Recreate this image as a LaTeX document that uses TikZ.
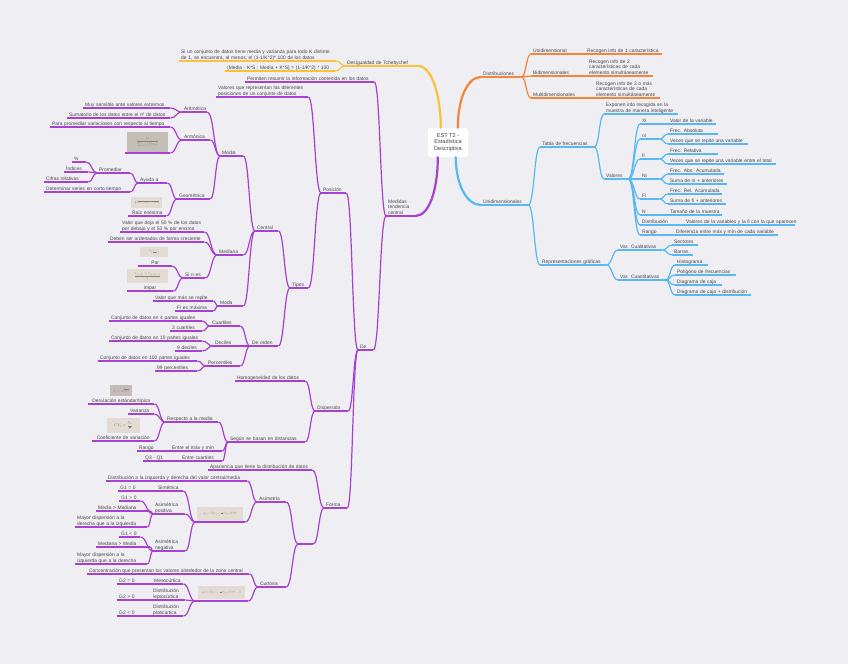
\documentclass[tikz,border=0pt]{standalone}
\usepackage{fontspec}
\usepackage{graphicx}
\setmainfont{Liberation Sans}
\usetikzlibrary{calc}
\definecolor{bgc}{RGB}{239,238,243}
\definecolor{cpur}{RGB}{167,66,208}
\definecolor{cora}{RGB}{247,132,58}
\definecolor{cyel}{RGB}{250,195,55}
\definecolor{cblu}{RGB}{88,184,246}
\definecolor{tcol}{RGB}{70,70,76}
\definecolor{imgc}{RGB}{226,220,212}
\definecolor{imgd}{RGB}{196,190,184}
\definecolor{fcol}{RGB}{140,128,116}
\newcommand\myfs{\fontsize{4.9}{5.7}\selectfont}
\newcommand\mnd[6]{\pgfmathsetmacro\mytw{#4-#3-4}\node[#1,text width=\mytw pt,anchor=south west] (#2) at (#3,#5) {\begin{tabular}[b]{@{}l@{}}#6\end{tabular}};}
\newcommand\cnd[6]{\pgfmathsetmacro\mytw{#4-#3-4}\node[#1,align=center,text width=\mytw pt,anchor=south west] (#2) at (#3,#5) {\begin{tabular}[b]{@{}c@{}}#6\end{tabular}};}
\newcommand\emnd[5]{\pgfmathsetmacro\mytw{#4-#3-4}\node[#1,text width=\mytw pt,text height=0pt,text depth=0pt,anchor=south west] (#2) at (#3,#5) {};}
\tikzset{
 basenode/.style={font=\myfs, text=tcol, inner xsep=2pt, inner ysep=0.9pt, text depth=0.4pt, align=left},
 ulnode/.style={basenode, append after command={(\tikzlastnode.south west) edge[draw=#1, line width=1.2pt] (\tikzlastnode.south east)}},
 pnode/.style={ulnode=cpur}, onode/.style={ulnode=cora}, ynode/.style={ulnode=cyel}, bnode/.style={ulnode=cblu},
 crv/.style={to path={let \p1=(\tikztostart),\p2=(\tikztotarget) in .. controls (\x1/2+\x2/2,\y1) and (\x1/2+\x2/2,\y2) .. (\tikztotarget)}},
 cpu/.style={draw=cpur, line width=1.2pt, crv}, cor/.style={draw=cora, line width=1.2pt, crv},
 cye/.style={draw=cyel, line width=1.2pt, crv}, cbl/.style={draw=cblu, line width=1.2pt, crv},
 rootline/.style={line width=2.2pt, line cap=round},
 imgbox/.style={fill=imgc, inner sep=0pt, text=fcol},
 rootbox/.style={fill=white, rounded corners=2.5pt, minimum width=40pt, minimum height=29pt, align=center, font=\fontsize{5.6}{6.6}\selectfont, text=tcol, inner sep=1pt}
}
\begin{document}
\begin{tikzpicture}[x=1pt,y=-1pt]
\fill[bgc] (0,0) rectangle (848,664);
\useasboundingbox (0,0) rectangle (848,664);

% ---------- right: orange
\mnd{onode}{dist}{481}{521}{77}{Distribuciones}
\mnd{onode}{uni1}{531}{585}{54}{Unidimensional}
\mnd{onode}{uni1c}{585}{662}{54}{Recogen info de 1 característica}
\mnd{onode}{bid}{531}{585}{76}{Bidimensionales}
\mnd{onode}{bidc}{587}{653}{76}{Recogen info de 2\\características de cada\\elemento simultáneamente}
\mnd{onode}{mul}{531}{590}{98}{Multidimensionales}
\mnd{onode}{mulc}{594}{660}{98}{Recogen info de 3 o más\\características de cada\\elemento simultáneamente}

% ---------- right: blue
\mnd{bnode}{unid}{481}{528}{205}{Unidimensionales}
\mnd{bnode}{tabla}{540}{594}{147}{Tabla de frecuencias}
\mnd{bnode}{expo}{604}{678}{114}{Exponen info recogida en la\\muestra de manera inteligente}
\mnd{bnode}{valo}{604}{628}{179}{Valores}
\mnd{bnode}{vxi}{640}{662}{124}{Xi}
\mnd{bnode}{vxic}{668}{716}{124}{Valor de la variable}
\mnd{bnode}{vni}{640}{659}{139}{ni}
\mnd{bnode}{vnia}{668}{718}{134}{Frec. Absoluta}
\mnd{bnode}{vnib}{668}{748}{144}{Veces que se repite una variable}
\mnd{bnode}{vfi}{640}{659}{159}{fi}
\mnd{bnode}{vfia}{668}{718}{154}{Frec. Relativa}
\mnd{bnode}{vfib}{668}{776}{164}{Veces que se repite una variable entre el total}
\mnd{bnode}{vNi}{640}{659}{179}{Ni}
\mnd{bnode}{vNia}{668}{724}{174}{Frec. Abs. Acumulada}
\mnd{bnode}{vNib}{668}{727}{184}{Suma de ni + anteriores}
\mnd{bnode}{vFi}{640}{659}{199}{Fi}
\mnd{bnode}{vFia}{668}{722}{194}{Frec. Rel. Acumulada}
\mnd{bnode}{vFib}{668}{726}{204}{Suma de fi + anteriores}
\mnd{bnode}{vN}{640}{668}{215}{N}
\mnd{bnode}{vNc}{668}{722}{215}{Tamaño de la muestra}
\mnd{bnode}{vdis}{640}{684}{225}{Distribución}
\mnd{bnode}{vdisc}{684}{795}{225}{Valores de la variables y la fi con la que aparecen}
\mnd{bnode}{vran}{640}{674}{235}{Rango}
\mnd{bnode}{vranc}{674}{778}{235}{Diferencia entre máx y mín de cada variable}
\mnd{bnode}{rep}{540}{606}{265}{Representaciones gráficas}
\mnd{bnode}{vcl}{618}{662}{250}{Var. Cualitativas}
\mnd{bnode}{sect}{672}{698}{245}{Sectores}
\mnd{bnode}{barr}{672}{693}{255}{Barras}
\mnd{bnode}{vcu}{618}{665}{280}{Var. Cuantitativas}
\mnd{bnode}{hist}{675}{708}{265}{Histograma}
\mnd{bnode}{poli}{675}{736}{275}{Polígono de frecuencias}
\mnd{bnode}{diag}{675}{722}{285}{Diagrama de caja}
\mnd{bnode}{diagd}{675}{751}{295}{Diagrama de caja + distribución}

% ---------- left: yellow
\mnd{ynode}{des}{345}{418}{66}{Desigualdad de Tchebychef}
\mnd{ynode}{des1}{179}{336}{61}{Si un conjunto de datos tiene media y varianza para todo K distinto\\de 1, se encuentra, al menos, el (1-1/K\textasciicircum 2)* 100 de los datos}
\mnd{ynode}{des2}{225}{335}{71}{(Media - K*S ; Media + K*S) = (1-1/K\textasciicircum 2) * 100}

% ---------- left: purple
\mnd{pnode}{med}{386}{415}{216}{Medidas\\tendencia\\central}
\mnd{pnode}{perm}{245}{374}{82}{Permiten resumir la información contenida en los datos}
\mnd{pnode}{de}{358}{373}{350}{De}
\mnd{pnode}{pos}{321}{346}{193}{Posición}
\mnd{pnode}{valp}{216}{308}{97}{Valores que representan las diferentes\\posiciones de un conjunto de datos}
\mnd{pnode}{tipos}{290}{308}{288}{Tipos}
\mnd{pnode}{central}{255}{278}{231}{Central}
\mnd{pnode}{deord}{250}{278}{346}{De orden}
\mnd{pnode}{media}{220}{243}{156}{Media}
\mnd{pnode}{mediana}{217}{243}{255}{Mediana}
\mnd{pnode}{moda}{218}{243}{306}{Moda}
\mnd{pnode}{arit}{182}{207}{112}{Aritmética}
\mnd{pnode}{arit1}{83}{170}{108}{Muy sensible ante valores extremos}
\mnd{pnode}{arit2}{67}{170}{118}{Sumatorio de los datos entre el nº de datos}
\mnd{pnode}{armo}{182}{210}{140}{Armónica}
\mnd{pnode}{armo1}{50}{170}{127}{Para promediar variaciones con respecto al tiempo}
\emnd{pnode}{armo2}{125}{170}{153}
\mnd{pnode}{geo}{177}{210}{199}{Geométrica}
\mnd{pnode}{ayuda}{138}{167}{183}{Ayuda a}
\mnd{pnode}{prom}{97}{130}{173}{Promediar}
\mnd{pnode}{pct}{72}{86}{162}{\%}
\mnd{pnode}{indi}{64}{88}{172}{Índices}
\mnd{pnode}{cifr}{44}{88}{182}{Cifras relativas}
\mnd{pnode}{deter}{44}{130}{192}{Determinar series en corto tiempo}
\cnd{pnode}{raiz}{128}{166}{216}{Raíz enésima}
\mnd{pnode}{valm}{120}{204}{232}{Valor que deja el 50 \% de los datos\\por debajo y el 50 \% por encima}
\mnd{pnode}{debe}{108}{204}{242}{Deben ser ordenados de forma creciente}
\mnd{pnode}{sine}{183}{205}{278}{Si n es}
\cnd{pnode}{par}{138}{172}{266}{Par}
\cnd{pnode}{impar}{127}{173}{291}{impar}
\mnd{pnode}{moda1}{153}{213}{301}{Valor que más se repite}
\mnd{pnode}{moda2}{175}{213}{311}{Fi es máxima}
\mnd{pnode}{cuar}{210}{240}{326}{Cuartiles}
\mnd{pnode}{cuar1}{109}{202}{321}{Conjunto de datos en 4 partes iguales}
\mnd{pnode}{cuar2}{170}{202}{331}{3 cuartiles}
\mnd{pnode}{deci}{213}{240}{346}{Deciles}
\mnd{pnode}{deci1}{109}{202}{341}{Conjunto de datos en 10 partes iguales}
\mnd{pnode}{deci2}{175}{202}{351}{9 deciles}
\mnd{pnode}{perc}{206}{240}{366}{Percentiles}
\mnd{pnode}{perc1}{98}{197}{361}{Conjunto de datos en 100 partes iguales}
\mnd{pnode}{perc2}{155}{197}{371}{99 percentiles}

\mnd{pnode}{disp}{315}{348}{411}{Dispersión}
\mnd{pnode}{homo}{235}{305}{381}{Homogeneidad de los datos}
\mnd{pnode}{segun}{228}{305}{442}{Según se basan en distancias}
\mnd{pnode}{resp}{165}{218}{422}{Respecto a la media}
\cnd{pnode}{desv}{88}{154}{404}{Desviación estándar/típica}
\mnd{pnode}{vari}{128}{154}{414}{Varianza}
\cnd{pnode}{coef}{92}{154}{441}{Coeficiente de variación}
\mnd{pnode}{entre}{170}{222}{451}{Entre el máx y mín}
\mnd{pnode}{rango}{137}{170}{451}{Rango}
\mnd{pnode}{entq}{180}{222}{461}{Entre cuartiles}
\mnd{pnode}{q3}{143}{180}{461}{Q3 - Q1}

\mnd{pnode}{forma}{324}{347}{508}{Forma}
\mnd{pnode}{apar}{208}{312}{470}{Apariencia que tiene la distribución de datos}
\emnd{pnode}{fgap}{298}{313}{544}
\mnd{pnode}{asim}{257}{286}{502}{Asimetría}
\mnd{pnode}{curt}{258}{286}{587}{Curtosis}
\mnd{pnode}{asim1}{106}{247}{481}{Distribución a la izquierda y derecha del valor central/media}
\emnd{pnode}{asimg}{195}{245}{522}
\mnd{pnode}{sime}{156}{183}{491}{Simétrica}
\mnd{pnode}{g10}{118}{156}{491}{G1 = 0}
\mnd{pnode}{apos}{153}{185}{514}{Asimétrica\\positiva}
\mnd{pnode}{g1p}{119}{140}{501}{G1 > 0}
\mnd{pnode}{mmm}{96}{150}{511}{Media > Mediana}
\mnd{pnode}{mdd}{75}{147}{527}{Mayor dispersión a la\\derecha que a la izquierda}
\mnd{pnode}{aneg}{153}{185}{551}{Asimétrica\\negativa}
\mnd{pnode}{g1n}{119}{140}{537}{G1 < 0}
\mnd{pnode}{mmn}{96}{150}{547}{Mediana > Media}
\mnd{pnode}{mdi}{75}{147}{564}{Mayor dispersión a la\\izquierda que a la derecha}
\mnd{pnode}{curt1}{87}{249}{574}{Concentración que presentan los valores alrededor de la zona central}
\emnd{pnode}{curtg}{195}{248}{601}
\mnd{pnode}{meso}{152}{183}{584}{Mesocúrtica}
\mnd{pnode}{g20}{117}{152}{584}{G2 = 0}
\mnd{pnode}{lept}{151}{185}{600}{Distribución\\leptocúrtica}
\mnd{pnode}{g2p}{117}{151}{600}{G2 > 0}
\mnd{pnode}{plat}{151}{183}{616}{Distribución\\platicúrtica}
\mnd{pnode}{g2n}{117}{151}{616}{G2 < 0}

% ---------- formula pictures
\node[imgbox, fill=imgd, minimum width=41pt, minimum height=20pt] (imarmo) at (147.5,142) {\scalebox{0.4}{$\displaystyle\frac{n}{\sum_{i=1}^{n}(1/x_i)}$}};
\node[imgbox, minimum width=31pt, minimum height=11pt] (imraiz) at (146.5,202.5) {\scalebox{0.4}{$\sqrt[n]{x_1\cdot x_2\cdots x_n}$}};
\node[imgbox, minimum width=28pt, minimum height=10pt] (impar1) at (154,252) {\scalebox{0.35}{$x_{\left(\frac{n+1}{2}\right)}$}};
\node[imgbox, minimum width=41pt, minimum height=14pt] (impar2) at (147.5,276) {\scalebox{0.35}{$\displaystyle\frac{x_{(n/2)}+x_{(n/2+1)}}{2}$}};
\node[imgbox, fill=imgd, minimum width=22pt, minimum height=11pt] (imdesv) at (121,390.5) {\scalebox{0.4}{$S=\sqrt{S^2}$}};
\node[imgbox, minimum width=33pt, minimum height=15pt] (imcoef) at (123.5,425.5) {\scalebox{0.4}{$\displaystyle CV_x=\frac{S_x}{\overline{x}}$}};
\node[imgbox, minimum width=46pt, minimum height=14pt] (imasim) at (220,514) {\scalebox{0.32}{$g_1=\Sigma(x_i-\overline{x})^3 n_i/N S^3$}};
\node[imgbox, minimum width=47pt, minimum height=13pt] (imcurt) at (221.5,592.5) {\scalebox{0.32}{$g_2=\Sigma(x_i-\overline{x})^4 n_i/N S^4-3$}};

% ---------- connectors right side
\foreach \a/\b in {dist/uni1,dist/bid,dist/mul,uni1/uni1c,bid/bidc,mul/mulc}
  \draw[cor] (\a.south east) to (\b.south west);
\foreach \a/\b in {unid/tabla,unid/rep,tabla/expo,tabla/valo,valo/vxi,valo/vni,valo/vfi,valo/vNi,valo/vFi,valo/vN,valo/vdis,valo/vran,vxi/vxic,vni/vnia,vni/vnib,vfi/vfia,vfi/vfib,vNi/vNia,vNi/vNib,vFi/vFia,vFi/vFib,vN/vNc,vdis/vdisc,vran/vranc,rep/vcl,rep/vcu,vcl/sect,vcl/barr,vcu/hist,vcu/poli,vcu/diag,vcu/diagd}
  \draw[cbl] (\a.south east) to (\b.south west);

% ---------- connectors left side
\foreach \a/\b in {des/des1,des/des2}
  \draw[cye] (\a.south west) to (\b.south east);
\foreach \a/\b in {med/perm,med/de,de/pos,de/disp,de/forma,pos/valp,pos/tipos,tipos/central,tipos/deord,central/media,central/mediana,central/moda,media/arit,media/armo,media/geo,arit/arit1,arit/arit2,armo/armo1,armo/armo2,geo/ayuda,geo/raiz,ayuda/prom,ayuda/deter,prom/pct,prom/indi,prom/cifr,mediana/valm,mediana/debe,mediana/sine,sine/par,sine/impar,moda/moda1,moda/moda2,deord/cuar,deord/deci,deord/perc,cuar/cuar1,cuar/cuar2,deci/deci1,deci/deci2,perc/perc1,perc/perc2}
  \draw[cpu] (\a.south west) to (\b.south east);
\foreach \a/\b in {disp/homo,disp/segun,segun/resp,segun/entre,segun/entq,resp/desv,resp/vari,resp/coef,entre/rango,entq/q3,forma/apar,forma/fgap,fgap/asim,fgap/curt,asim/asim1,asim/asimg,asimg/sime,asimg/apos,asimg/aneg,sime/g10,apos/g1p,apos/mmm,apos/mdd,aneg/g1n,aneg/mmn,aneg/mdi,curt/curt1,curt/curtg,curtg/meso,curtg/lept,curtg/plat,meso/g20,lept/g2p,plat/g2n}
  \draw[cpu] (\a.south west) to (\b.south east);

% ---------- root and main branches
\node[rootbox] (root) at (448,142.5) {EST T2 -\\Estadística\\Descriptiva};
\draw[rootline, draw=cyel] ([xshift=13pt]root.north west) .. controls +(0,-30) and +(14,0) .. (des.south east);
\draw[rootline, draw=cora] ([xshift=30pt]root.north west) .. controls +(0,-28) and +(-14,0) .. (dist.south west);
\draw[rootline, draw=cpur] ([xshift=10pt]root.south west) .. controls +(0,32) and +(14,0) .. (med.south east);
\draw[rootline, draw=cblu] ([xshift=28pt]root.south west) .. controls +(0,28) and +(-14,0) .. (unid.south west);
\end{tikzpicture}
\end{document}
